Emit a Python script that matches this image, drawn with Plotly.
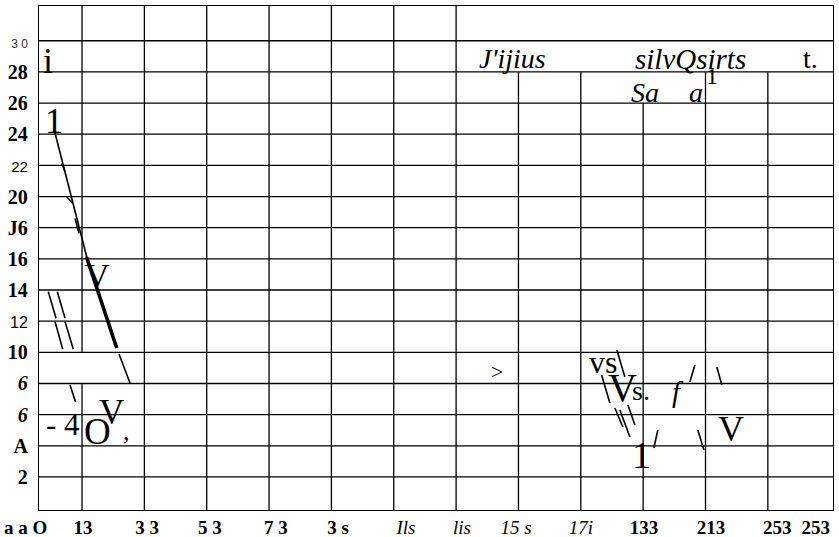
import plotly.graph_objects as go

SERIF = "Liberation Serif"
SANS = "Liberation Sans"

# ---- axes / grid (data units) ----
x_range = [-0.8, 253.9]
y_range = [-0.12, 32.23]
grid_x = [13, 33, 53, 73, 93, 113, 133, 153, 173, 193, 213, 233]
grid_y = [2, 4, 6, 8, 10, 12, 14, 16, 18, 20, 22, 24, 26, 28, 30]
# vertical gridlines that stop below the top edge: x -> top value
grid_x_top = {153: 28, 173: 28, 193: 26, 213: 28, 233: 28}
# vertical gridline gaps: x -> (from, to)
grid_x_gap = {13: (8, 10)}

# ---- tick labels ----
y_tick_vals = grid_y
y_tick_text = [
    "2", "A", "<i>6</i>", "<i>6</i>",
    "10",
    '<span style="font-family:Liberation Sans;font-weight:normal;font-size:16px">12</span>',
    "14", "16", "J6", "20",
    '<span style="font-family:Liberation Sans;font-weight:normal;font-size:15px">22</span>',
    "24", "26", "28",
    '<span style="font-family:Liberation Sans;font-weight:normal;font-size:12px;fill:#333">3 0</span>',
]
x_tick_vals = [13.3, 33.9, 54.0, 75.2, 95.1, 116.9, 134.9, 152.2, 173.0, 193.3, 214.8, 236.0, 248.4]
x_tick_text = [
    "13", "3 3", "5 3", "7 3", "3 s",
    '<span style="font-weight:normal"><i>Ils</i></span>',
    '<span style="font-weight:normal"><i>lis</i></span>',
    '<span style="font-weight:normal"><i>15 s</i></span>',
    '<span style="font-weight:normal"><i>17i</i></span>',
    "133", "213", "253", "253",
]
x_outside_label = "a a O"
x_outside_pos = (-0.0176, -0.034)  # paper fraction, left of / below the plot frame

# ---- strokes (x0, y0, x1, y1) in data units ----
thin_strokes = [
    (4.18, 24.21, 14.92, 15.80),
    (24.87, 9.89, 28.39, 8.03),
    (2.19, 13.89, 4.66, 12.19),
    (5.08, 13.89, 7.55, 12.19),
    (4.34, 11.97, 6.81, 10.20),
    (7.55, 11.97, 10.21, 10.20),
    (9.15, 7.90, 10.92, 6.81),
    (6.49, 22.13, 7.55, 21.59),
    (8.09, 19.99, 10.02, 19.57),
    (10.76, 18.60, 12.04, 17.64),
    (184.57, 10.15, 187.14, 8.42),
    (179.67, 8.55, 182.33, 6.75),
    (183.93, 6.43, 186.50, 5.21),
    (185.54, 6.30, 188.75, 4.57),
    (188.11, 6.62, 190.36, 5.34),
    (209.59, 9.19, 207.99, 8.10),
    (216.64, 9.06, 218.25, 7.90),
    (197.72, 5.02, 196.44, 3.86),
    (210.55, 5.02, 212.48, 3.73),
]
thick_strokes = [
    (14.44, 16.12, 24.13, 10.28),
]

# ---- text marks: (text, x, y, size, italic) ----
text_marks = [
    ("i", 2.10, 28.70, 36, False),
    ("1", 4.02, 24.85, 36, False),
    ("V", 17.97, 14.90, 34, False),
    ("- 4", 6.75, 5.40, 31, False),
    ("O", 17.97, 4.95, 37, False),
    ("V", 22.46, 6.17, 35, False),
    (",", 27.11, 4.89, 26, False),
    ("J'ijius", 151.22, 28.83, 28, True),
    ("silvQsirts", 208.31, 28.83, 29, True),
    ("t.", 246.79, 28.83, 28, False),
    ("Sa", 193.71, 26.65, 28, True),
    ("a", 210.07, 26.65, 28, True),
    ("1", 215.2, 27.74, 24, False),
    (">", 146.25, 8.80, 22, False),
    ("vs", 180.24, 9.35, 32, False),
    ("V", 186.34, 7.74, 40, False),
    ("s.", 192.27, 7.52, 28, False),
    ("f", 204.30, 7.46, 29, True),
    ("V", 221.29, 5.11, 36, False),
    ("1", 192.59, 3.41, 38, False),
]


def seg_xy(segs):
    xs, ys = [], []
    for x0, y0, x1, y1 in segs:
        xs += [x0, x1, None]
        ys += [y0, y1, None]
    return xs, ys


# grid segments
gx, gy = [], []
for x in grid_x:
    top = grid_x_top.get(x, y_range[1])
    if x in grid_x_gap:
        a, b = grid_x_gap[x]
        gx += [x, x, None, x, x, None]
        gy += [y_range[0], a, None, b, top, None]
    else:
        gx += [x, x, None]
        gy += [y_range[0], top, None]
for y in grid_y:
    gx += [x_range[0], x_range[1], None]
    gy += [y, y, None]

fig = go.Figure()
fig.add_trace(go.Scatter(x=gx, y=gy, mode="lines", line=dict(color="black", width=1.3),
                         hoverinfo="skip", showlegend=False))
tx, ty = seg_xy(thin_strokes)
fig.add_trace(go.Scatter(x=tx, y=ty, mode="lines", line=dict(color="black", width=1.6),
                         hoverinfo="skip", showlegend=False))
kx, ky = seg_xy(thick_strokes)
fig.add_trace(go.Scatter(x=kx, y=ky, mode="lines", line=dict(color="black", width=3.6),
                         hoverinfo="skip", showlegend=False))

for txt, x, y, s, it in text_marks:
    fig.add_annotation(x=x, y=y, xref="x", yref="y", showarrow=False,
                       text=f"<i>{txt}</i>" if it else txt,
                       font=dict(family=SERIF, size=s, color="black"),
                       xanchor="center", yanchor="middle")

fig.add_annotation(x=x_outside_pos[0], y=x_outside_pos[1], xref="paper", yref="paper",
                   showarrow=False, text=x_outside_label,
                   font=dict(family=SERIF, size=19, color="black", weight="bold"),
                   xanchor="center", yanchor="middle")

fig.update_layout(
    width=839, height=537,
    margin=dict(l=39, r=6, t=6, b=27, autoexpand=False),
    paper_bgcolor="white", plot_bgcolor="white",
    showlegend=False,
    xaxis=dict(range=x_range, showgrid=False, zeroline=False, automargin=False,
               showline=True, mirror=True, linecolor="black", linewidth=1.3,
               tickmode="array", tickvals=x_tick_vals, ticktext=x_tick_text,
               ticks="", ticklabelstandoff=0,
               tickfont=dict(family=SERIF, size=19, color="black", weight="bold")),
    yaxis=dict(range=y_range, showgrid=False, zeroline=False, automargin=False,
               showline=True, mirror=True, linecolor="black", linewidth=1.3,
               tickmode="array", tickvals=y_tick_vals, ticktext=y_tick_text,
               ticks="", ticklabelstandoff=6,
               tickfont=dict(family=SERIF, size=20, color="black", weight="bold")),
)

fig.write_html(
    "out.html",
    config={"displayModeBar": False},
    post_script="document.body.style.margin='0';document.body.style.overflow='hidden';",
)
